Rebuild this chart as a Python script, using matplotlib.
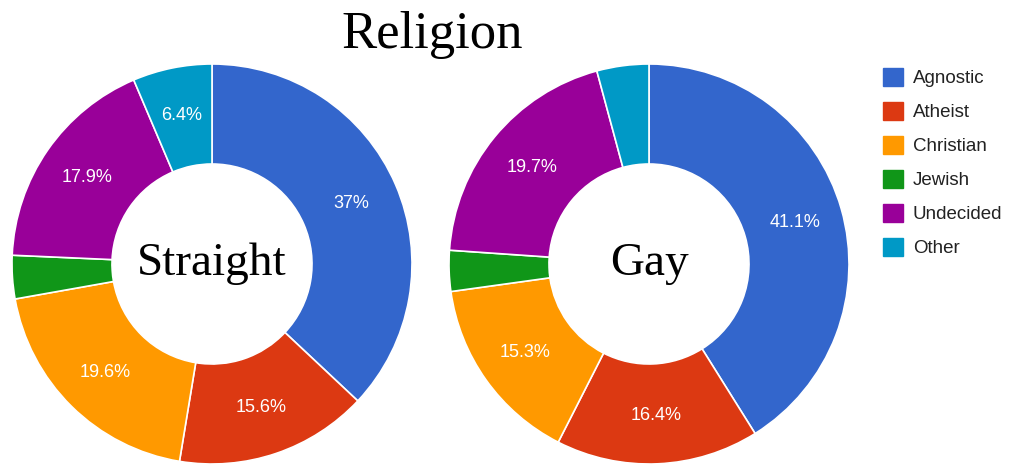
import numpy as np
import matplotlib
matplotlib.use("Agg")
import matplotlib.pyplot as plt
from matplotlib.patches import Patch

# religion breakdown, percent of respondents
religions = ["Agnostic", "Atheist", "Christian", "Jewish", "Undecided", "Other"]
straight = [37.0, 15.6, 19.6, 3.5, 17.9, 6.4]
gay = [41.1, 16.4, 15.3, 3.3, 19.7, 4.2]
groups = ["Straight", "Gay"]

colors = ["#3366cc", "#dc3912", "#ff9900", "#109618", "#990099", "#0099c6"]

W, H = 1021, 468
fig = plt.figure(figsize=(W / 100, H / 100), dpi=100)
fig.patch.set_facecolor("white")


def donut(cx, cy, r, values, name):
    ax = fig.add_axes([(cx - r) / W, (H - cy - r) / H, 2 * r / W, 2 * r / H])
    ax.pie(values, colors=colors, startangle=90, counterclock=False,
           wedgeprops=dict(width=0.5, edgecolor="white", linewidth=1.2))
    ax.set_xlim(-1, 1)
    ax.set_ylim(-1, 1)
    ax.set_aspect("equal")
    ax.axis("off")
    # percent labels in the middle of the ring, small slices left bare
    total = sum(values)
    start = 0.0
    for v in values:
        mid = (start + v / 2) / total * 2 * np.pi
        start += v
        if v / total < 0.05:
            continue
        txt = ("%.1f" % v).rstrip("0").rstrip(".") + "%"
        ax.text(0.76 * np.sin(mid), 0.76 * np.cos(mid), txt, color="white",
                fontsize=13, family="Liberation Sans", ha="center", va="center")
    ax.text(0, 0, name, fontsize=34, family="Liberation Serif",
            ha="center", va="center")


donut(212, 264, 200, straight, groups[0])
donut(649, 264, 200, gay, groups[1])

fig.text(432 / W, 1 - 35 / H, "Religion", fontsize=38, family="Liberation Serif",
         ha="center", va="center")

handles = [Patch(facecolor=c, edgecolor=c) for c in colors]
leg = fig.legend(handles, religions, loc="upper left",
                 bbox_to_anchor=(866 / W, 1 - 51 / H), frameon=False,
                 prop=dict(family="Liberation Sans", size=13.5),
                 handlelength=1.07, handleheight=1.07, handletextpad=0.52,
                 labelspacing=0.79, labelcolor="#222222")

fig.savefig("out.png", dpi=100, facecolor="white")
